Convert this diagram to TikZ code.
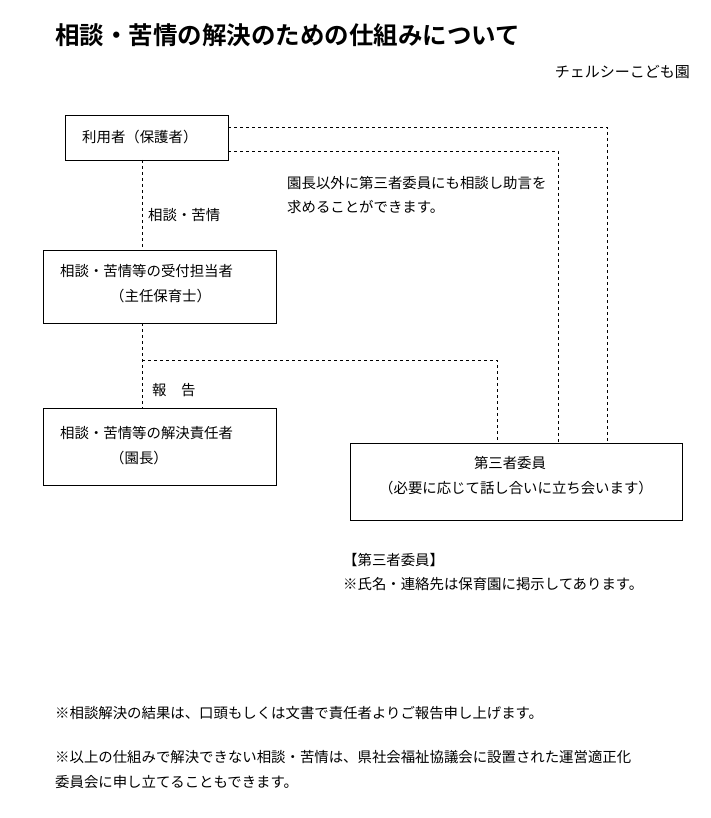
\documentclass[tikz,border=0pt]{standalone}
\usepackage{fontspec}
\setmainfont{Noto Sans CJK JP}
\newfontfamily\titlefont{Noto Sans CJK JP Bold}
\usetikzlibrary{positioning}
\begin{document}
\begin{tikzpicture}[x=1pt,y=-1pt,
  box/.style={draw,thick,inner sep=0pt},
  txt/.style={anchor=west,inner sep=0pt,font=\fontsize{14.4}{16}\selectfont},
  link/.style={dashed,thin}]
\useasboundingbox (0,0) rectangle (711,818);
\node[anchor=west,inner sep=0pt,font=\titlefont\fontsize{24.5}{28}\selectfont] (title) at (55,35) {相談・苦情の解決のための仕組みについて};
\node[anchor=east,inner sep=0pt,font=\fontsize{15}{17}\selectfont] (org) at (690,72) {チェルシーこども園};

\draw[box] (65,115) rectangle (228,160);
\node[txt] (user) at (82,137) {利用者（保護者）};
\draw[box] (43,250) rectangle (276,323);
\node[txt] (recv) at (60,271) {相談・苦情等の受付担当者};
\node[txt] at (110,296) {（主任保育士）};
\draw[box] (43,408) rectangle (276,485);
\node[txt] (head) at (60,433) {相談・苦情等の解決責任者};
\node[txt] at (110,458) {（園長）};
\draw[box] (350,443) rectangle (682,520);
\node[txt,anchor=center] (third) at (510,463) {第三者委員};
\node[txt,anchor=center] at (516,488) {（必要に応じて話し合いに立ち会います）};

\draw[link] (228,127) -- (607,127) -- (607,443);
\draw[link] (228,151) -- (558,151) -- (558,443);
\draw[link] (142,160) -- (142,250);
\draw[link] (142,323) -- (142,408);
\draw[link] (142,360) -- (497,360) -- (497,443);

\node[txt] at (287,183) {園長以外に第三者委員にも相談し助言を};
\node[txt] at (287,207) {求めることができます。};
\node[txt] at (148,215) {相談・苦情};
\node[txt] at (152,390) {報　告};

\node[txt] at (343,560) {【第三者委員】};
\node[txt] at (343,584) {※氏名・連絡先は保育園に掲示してあります。};
\node[txt] at (55,713) {※相談解決の結果は、口頭もしくは文書で責任者よりご報告申し上げます。};
\node[txt] at (55,757) {※以上の仕組みで解決できない相談・苦情は、県社会福祉協議会に設置された運営適正化};
\node[txt] at (55,782) {委員会に申し立てることもできます。};
\end{tikzpicture}
\end{document}
